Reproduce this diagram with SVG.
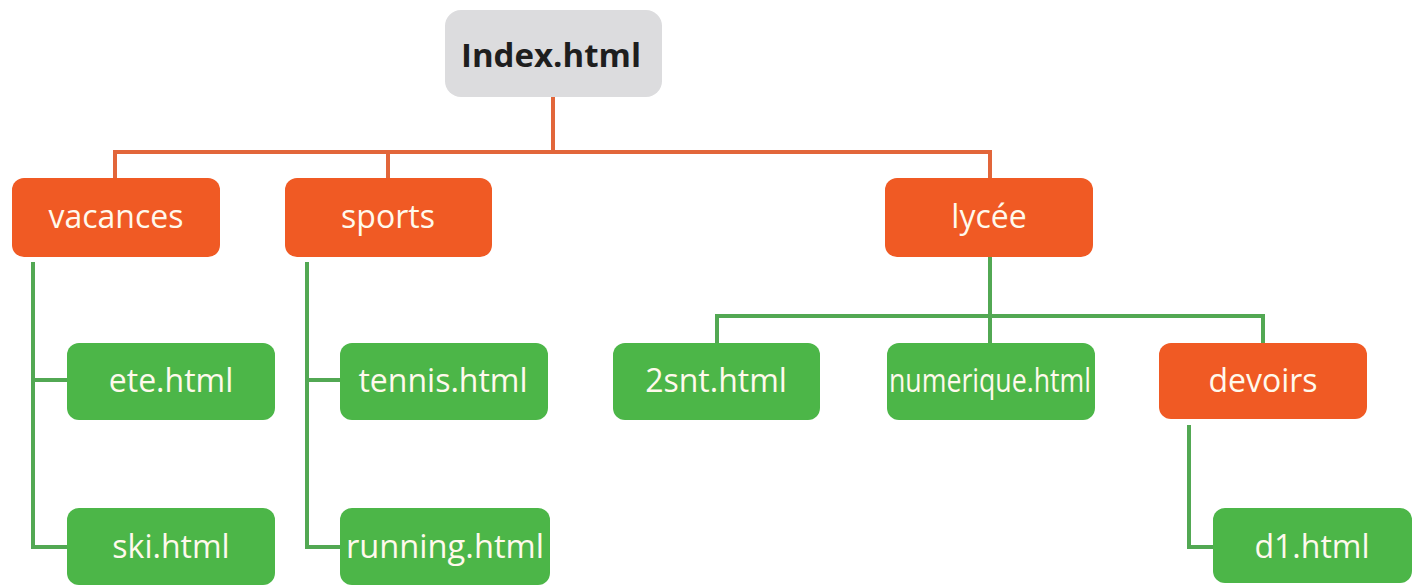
<svg xmlns="http://www.w3.org/2000/svg" width="1414" height="587" viewBox="0 0 1414 587">
<style>
.o{fill:#F05A24}
.g{fill:#4CB648}
.r{fill:#DCDCDE}
.t{font-family:"Open Sans","Noto Sans",sans-serif;font-size:32px;fill:#FFF9EC;text-anchor:middle;dominant-baseline:central}
.b{font-family:"Open Sans","Noto Sans",sans-serif;font-size:33px;font-weight:bold;fill:#1E1E1E;text-anchor:middle;dominant-baseline:central}
.lo{fill:none;stroke:#E2663A;stroke-width:4}
.lg{fill:none;stroke:#52A853;stroke-width:4}
</style>
<rect width="1414" height="587" fill="#FFFFFF"/>
<g id="connectors">
<path class="lo" d="M553 97V152M115 178V152H990V178M388 152V178"/>
<path class="lg" d="M33 262V547H67M33 380H67"/>
<path class="lg" d="M307 262V547H340M307 380H340"/>
<path class="lg" d="M990 257V343M717 343V316H1263V343"/>
<path class="lg" d="M1189 425V547H1213"/>
</g>
<g id="index"><rect class="r" x="445" y="10" width="217" height="87" rx="16"/><text class="b" x="551" y="54">Index.html</text></g>
<g id="vacances"><rect class="o" x="12" y="178" width="208" height="79" rx="12"/><text class="t" x="116" y="215">vacances</text></g>
<g id="sports"><rect class="o" x="285" y="178" width="207" height="79" rx="12"/><text class="t" x="388" y="215">sports</text></g>
<g id="lycee"><rect class="o" x="885" y="178" width="208" height="79" rx="12"/><text class="t" x="989" y="215">lycée</text></g>
<g id="ete"><rect class="g" x="67" y="343" width="208" height="77" rx="12"/><text class="t" x="171" y="379">ete.html</text></g>
<g id="tennis"><rect class="g" x="340" y="343" width="208" height="77" rx="12"/><text class="t" x="443" y="379">tennis.html</text></g>
<g id="snt"><rect class="g" x="613" y="343" width="207" height="77" rx="12"/><text class="t" x="716" y="379">2snt.html</text></g>
<g id="numerique"><rect class="g" x="887" y="343" width="208" height="77" rx="12"/><text class="t" x="990" y="379" textLength="202" lengthAdjust="spacingAndGlyphs">numerique.html</text></g>
<g id="devoirs"><rect class="o" x="1159" y="343" width="208" height="76" rx="12"/><text class="t" x="1263" y="379">devoirs</text></g>
<g id="ski"><rect class="g" x="67" y="508" width="208" height="77" rx="12"/><text class="t" x="171" y="545">ski.html</text></g>
<g id="running"><rect class="g" x="340" y="508" width="210" height="77" rx="12"/><text class="t" x="445" y="545" textLength="198" lengthAdjust="spacingAndGlyphs">running.html</text></g>
<g id="d1"><rect class="g" x="1213" y="508" width="199" height="75" rx="12"/><text class="t" x="1312" y="545">d1.html</text></g>
</svg>
